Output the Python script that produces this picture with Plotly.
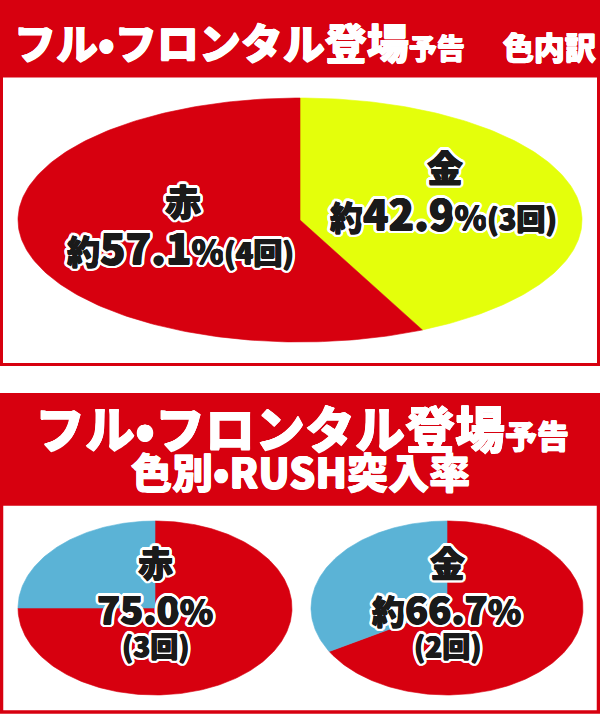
import numpy as np
import plotly.graph_objects as go

W, H = 600, 714
RED = "#D7000F"
YELLOW = "#E4FF0B"
BLUE = "#5BB3D6"
INK = "#1a1a1a"
FONT = "Noto Sans CJK JP"

# ---- data: colour breakdown (clockwise from 12 o'clock) ----
color_labels = ["金", "赤"]
color_counts = [3, 4]
color_pcts = [42.9, 57.1]
color_fill = [YELLOW, RED]

# ---- data: RUSH entry rate by colour (clockwise from 12 o'clock) ----
rush_labels = ["突入", "非突入"]
red_rush_counts = [3, 1]
gold_rush_counts = [2, 1]
red_rush_pct = 75.0
gold_rush_pct = 66.7
rush_fill = [RED, BLUE]

DOT = "•"
title_top = f"フル{DOT}フロンタル登場"
title_small = "予告"
title_tail = "色内訳"
title2_line2 = f"色別{DOT}RUSH突入率"


def ellipse_slices(values, cx, cy, rx, ry, n=360):
    total = float(sum(values))
    start = 0.0
    out = []
    for v in values:
        frac = v / total
        t = np.linspace(start, start + frac, max(int(n * frac), 3)) * 2 * np.pi
        xs = np.concatenate([[cx], cx + rx * np.sin(t), [cx]])
        ys = np.concatenate([[cy], cy - ry * np.cos(t), [cy]])
        out.append((xs, ys))
        start += frac
    return out


fig = go.Figure()


def add_pie(values, colors, names, cx, cy, rx, ry):
    for (xs, ys), c, nm in zip(ellipse_slices(values, cx, cy, rx, ry), colors, names):
        fig.add_trace(go.Scatter(x=xs, y=ys, mode="lines", fill="toself",
                                 fillcolor=c, line=dict(color=c, width=0.6),
                                 name=nm, hoverinfo="skip", showlegend=False))


add_pie(color_counts, color_fill, color_labels, 300, 220, 282, 122)
add_pie(red_rush_counts, rush_fill, rush_labels, 155, 608, 137, 87)
add_pie(gold_rush_counts, rush_fill, rush_labels, 447, 608, 136, 87)

shapes = [
    dict(type="rect", x0=0, x1=600, y0=0, y1=77, fillcolor=RED, line_width=0, layer="below"),
    dict(type="rect", x0=1.5, x1=598.5, y0=76, y1=364.5, line=dict(color=RED, width=3),
         fillcolor="rgba(0,0,0,0)", layer="below"),
    dict(type="rect", x0=0, x1=600, y0=393, y1=505, fillcolor=RED, line_width=0, layer="below"),
    dict(type="rect", x0=1.5, x1=598.5, y0=504, y1=712, line=dict(color=RED, width=3.5),
         fillcolor="rgba(0,0,0,0)", layer="below"),
]

# slightly heavier ink (small dark offsets) + white outline (larger offsets)
BOLD = [(0.6, 0), (-0.6, 0), (0, 0.5), (0, -0.5)]
RING = [(3.3, 0), (-3.3, 0), (0, 3.3), (0, -3.3), (2.4, 2.4), (-2.4, 2.4), (2.4, -2.4), (-2.4, -2.4),
        (3.1, 1.3), (3.1, -1.3), (-3.1, 1.3), (-3.1, -1.3), (1.3, 3.1), (-1.3, 3.1), (1.3, -3.1),
        (-1.3, -3.1)]
SH_LABEL = ", ".join([f"{dx}px {dy}px 0 {INK}" for dx, dy in BOLD] +
                     [f"{dx}px {dy}px 0 #fff" for dx, dy in RING])
SH_HEAD = ", ".join(f"{dx}px {dy}px 0 #fff" for dx, dy in
                    [(0.6, 0), (-0.6, 0), (0, 0.5), (0, -0.5)])


def sp(txt, size):
    return f"<span style='font-size:{size}px'>{txt}</span>"


ann = []


def add_text(text, x, y, size, color=INK, shadow=SH_LABEL, xanchor="center"):
    f = dict(family=FONT, size=size, color=color, weight=900, shadow=shadow)
    ann.append(dict(text=text, x=x, y=y, xref="x", yref="y", showarrow=False,
                    xanchor=xanchor, yanchor="middle", font=f))


# headers
add_text(title_top + sp(title_small, 28) + sp("\u3000", 38) + sp(title_tail, 31),
         12, 40, 42, color="white", shadow=SH_HEAD, xanchor="left")
add_text(title_top + sp(title_small, 32), 302, 426, 50, color="white", shadow=SH_HEAD)
add_text(title2_line2, 300, 470, 41, color="white", shadow=SH_HEAD)

# top pie labels
gold_i, red_i = 0, 1


def pct_line(pct, count):
    return sp("約", 33) + f"{pct}" + sp("%", 33) + sp(f"({count}回)", 29)


add_text(color_labels[red_i], 183, 200, 36)
add_text(pct_line(color_pcts[red_i], color_counts[red_i]), 180, 245, 42)
add_text(color_labels[gold_i], 445, 166, 36)
add_text(pct_line(color_pcts[gold_i], color_counts[gold_i]), 443, 211, 42)

# bottom pie labels
add_text(color_labels[red_i], 155, 561, 35)
add_text(f"{red_rush_pct:.1f}" + sp("%", 34), 155, 607, 38)
add_text(f"({red_rush_counts[0]}回)", 155, 645, 28)
add_text(color_labels[gold_i], 447, 561, 35)
add_text(sp("約", 33) + f"{gold_rush_pct:.1f}" + sp("%", 34), 446, 607, 38)
add_text(f"({gold_rush_counts[0]}回)", 447, 645, 28)

fig.update_layout(
    width=W, height=H, margin=dict(l=0, r=0, t=0, b=0),
    paper_bgcolor="white", plot_bgcolor="white",
    xaxis=dict(range=[0, W], visible=False, fixedrange=True),
    yaxis=dict(range=[H, 0], visible=False, fixedrange=True),
    shapes=shapes, annotations=ann, showlegend=False,
)

fig.write_html("out.html", config={"displayModeBar": False},
               post_script="document.body.style.margin='0';document.body.style.overflow='hidden';")
